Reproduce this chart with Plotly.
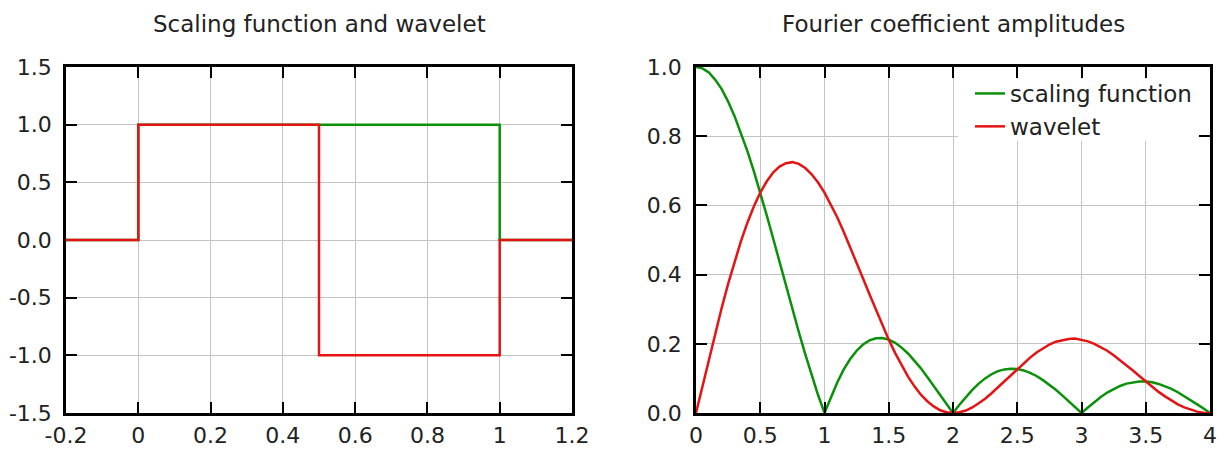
import plotly.graph_objects as go
from plotly.subplots import make_subplots

# ---- Left panel data (Haar scaling function and wavelet) ----
t_scaling = [-0.2, 0.0, 1.0, 1.2]
phi_values = [0.0, 1.0, 0.0, 0.0]
t_wavelet = [-0.2, 0.0, 0.5, 1.0, 1.2]
psi_values = [0.0, 1.0, -1.0, 0.0, 0.0]

# ---- Right panel data (Fourier amplitudes) ----
freq = [0.00, 0.05, 0.10, 0.15, 0.20, 0.25, 0.30, 0.35, 0.40, 0.45,
        0.50, 0.55, 0.60, 0.65, 0.70, 0.75, 0.80, 0.85, 0.90, 0.95,
        1.00, 1.05, 1.10, 1.15, 1.20, 1.25, 1.30, 1.35, 1.40, 1.45,
        1.50, 1.55, 1.60, 1.65, 1.70, 1.75, 1.80, 1.85, 1.90, 1.95,
        2.00, 2.05, 2.10, 2.15, 2.20, 2.25, 2.30, 2.35, 2.40, 2.45,
        2.50, 2.55, 2.60, 2.65, 2.70, 2.75, 2.80, 2.85, 2.90, 2.95,
        3.00, 3.05, 3.10, 3.15, 3.20, 3.25, 3.30, 3.35, 3.40, 3.45,
        3.50, 3.55, 3.60, 3.65, 3.70, 3.75, 3.80, 3.85, 3.90, 3.95,
        4.00]
scaling_amp = [1.000, 0.996, 0.984, 0.963, 0.936, 0.900, 0.858, 0.810, 0.757, 0.699,
               0.637, 0.572, 0.505, 0.436, 0.368, 0.300, 0.234, 0.170, 0.109, 0.052,
               0.000, 0.047, 0.089, 0.126, 0.156, 0.180, 0.198, 0.210, 0.216, 0.217,
               0.212, 0.203, 0.189, 0.172, 0.152, 0.129, 0.104, 0.078, 0.052, 0.026,
               0.000, 0.024, 0.047, 0.067, 0.085, 0.100, 0.112, 0.121, 0.126, 0.128,
               0.127, 0.123, 0.116, 0.107, 0.095, 0.082, 0.067, 0.051, 0.034, 0.017,
               0.000, 0.016, 0.032, 0.046, 0.059, 0.069, 0.078, 0.085, 0.089, 0.091,
               0.091, 0.089, 0.084, 0.078, 0.070, 0.060, 0.049, 0.038, 0.025, 0.013,
               0.000]
wavelet_amp = [0.000, 0.078, 0.156, 0.231, 0.304, 0.373, 0.437, 0.497, 0.550, 0.597,
               0.637, 0.669, 0.695, 0.712, 0.722, 0.725, 0.720, 0.708, 0.690, 0.666,
               0.637, 0.603, 0.565, 0.523, 0.480, 0.435, 0.389, 0.343, 0.298, 0.254,
               0.212, 0.173, 0.138, 0.105, 0.077, 0.053, 0.034, 0.019, 0.008, 0.002,
               0.000, 0.002, 0.007, 0.016, 0.028, 0.041, 0.057, 0.074, 0.092, 0.110,
               0.127, 0.144, 0.160, 0.175, 0.187, 0.198, 0.206, 0.211, 0.214, 0.215,
               0.212, 0.207, 0.200, 0.191, 0.180, 0.167, 0.153, 0.138, 0.123, 0.107,
               0.091, 0.076, 0.061, 0.048, 0.036, 0.025, 0.016, 0.009, 0.004, 0.001,
               0.000]

# ---- Tick labels ----
left_xticks = [-0.2, 0, 0.2, 0.4, 0.6, 0.8, 1, 1.2]
left_xlabels = ["-0.2", "0", "0.2", "0.4", "0.6", "0.8", "1", "1.2"]
left_yticks = [-1.5, -1.0, -0.5, 0.0, 0.5, 1.0, 1.5]
left_ylabels = ["-1.5", "-1.0", "-0.5", "0.0", "0.5", "1.0", "1.5"]
right_xticks = [0, 0.5, 1, 1.5, 2, 2.5, 3, 3.5, 4]
right_xlabels = ["0", "0.5", "1", "1.5", "2", "2.5", "3", "3.5", "4"]
right_yticks = [0.0, 0.2, 0.4, 0.6, 0.8, 1.0]
right_ylabels = ["0.0", "0.2", "0.4", "0.6", "0.8", "1.0"]

titles = ["Scaling function and wavelet", "Fourier coefficient amplitudes"]
series_names = ["scaling function", "wavelet"]

GREEN = "rgb(10,145,10)"
RED = "rgb(228,20,20)"
FONT = "DejaVu Sans"
TXT = "#222222"
FS = 23
TFS = 22

W, H = 1231, 451
ml, mr, mt, mb = 66, 21, 67, 38
pw = W - ml - mr
ph = H - mt - mb

fig = make_subplots(rows=1, cols=2)

fig.add_trace(go.Scatter(x=t_scaling, y=phi_values, mode="lines", line_shape="hv",
                         line=dict(color=GREEN, width=2.5), showlegend=False), 1, 1)
fig.add_trace(go.Scatter(x=t_wavelet, y=psi_values, mode="lines", line_shape="hv",
                         line=dict(color=RED, width=2.5), showlegend=False), 1, 1)
fig.add_trace(go.Scatter(x=freq, y=scaling_amp, mode="lines", name=series_names[0],
                         line=dict(color=GREEN, width=2.5)), 1, 2)
fig.add_trace(go.Scatter(x=freq, y=wavelet_amp, mode="lines", name=series_names[1],
                         line=dict(color=RED, width=2.5)), 1, 2)

axis_common = dict(showline=True, linecolor="black", linewidth=2.5, mirror="ticks",
                   ticks="inside", ticklen=11, tickwidth=2, tickcolor="black",
                   showgrid=True, gridcolor="#c4c4c4", gridwidth=1.2, zeroline=False,
                   automargin=False,
                   tickfont=dict(family=FONT, size=TFS, color=TXT))

d1 = (572 - ml) / pw
d2 = (696 - ml) / pw
fig.update_xaxes(axis_common)
fig.update_yaxes(axis_common)
fig.update_xaxes(domain=[0, d1], range=[-0.2, 1.2], tickvals=left_xticks,
                 ticktext=left_xlabels, ticklabelstandoff=1, layer="below traces",
                 row=1, col=1)
fig.update_yaxes(range=[-1.5, 1.5], tickvals=left_yticks, ticktext=left_ylabels,
                 ticklabelstandoff=7, layer="below traces", row=1, col=1)
fig.update_xaxes(domain=[d2, 1], range=[0, 4], tickvals=right_xticks,
                 ticktext=right_xlabels, ticklabelstandoff=1, row=1, col=2)
fig.update_yaxes(range=[0, 1.0], tickvals=right_yticks, ticktext=right_ylabels,
                 ticklabelstandoff=7, row=1, col=2)

# white block hiding gridlines behind the legend (leaves room for the tick marks)
fig.add_shape(type="rect", xref="x2", yref="y2", x0=2.04, x1=3.91, y0=0.787, y1=0.965,
              fillcolor="white", line=dict(width=0), layer="between")

ty = (H - mb - 24) / ph
for i, cx in enumerate([d1 / 2, (d2 + 1) / 2]):
    fig.add_annotation(text=titles[i], xref="paper", yref="paper", x=cx, y=ty,
                       xanchor="center", yanchor="middle", showarrow=False,
                       font=dict(family=FONT, size=FS, color=TXT))

fig.update_layout(
    width=W, height=H,
    margin=dict(l=ml, r=mr, t=mt, b=mb),
    paper_bgcolor="white", plot_bgcolor="white",
    font=dict(family=FONT, color=TXT),
    legend=dict(x=(970 - ml) / pw, y=(H - mb - 72) / ph, xanchor="left", yanchor="top",
                bgcolor="rgba(0,0,0,0)", font=dict(family=FONT, size=FS, color=TXT),
                itemwidth=30, tracegroupgap=0),
)

fig.write_html("out.html")
